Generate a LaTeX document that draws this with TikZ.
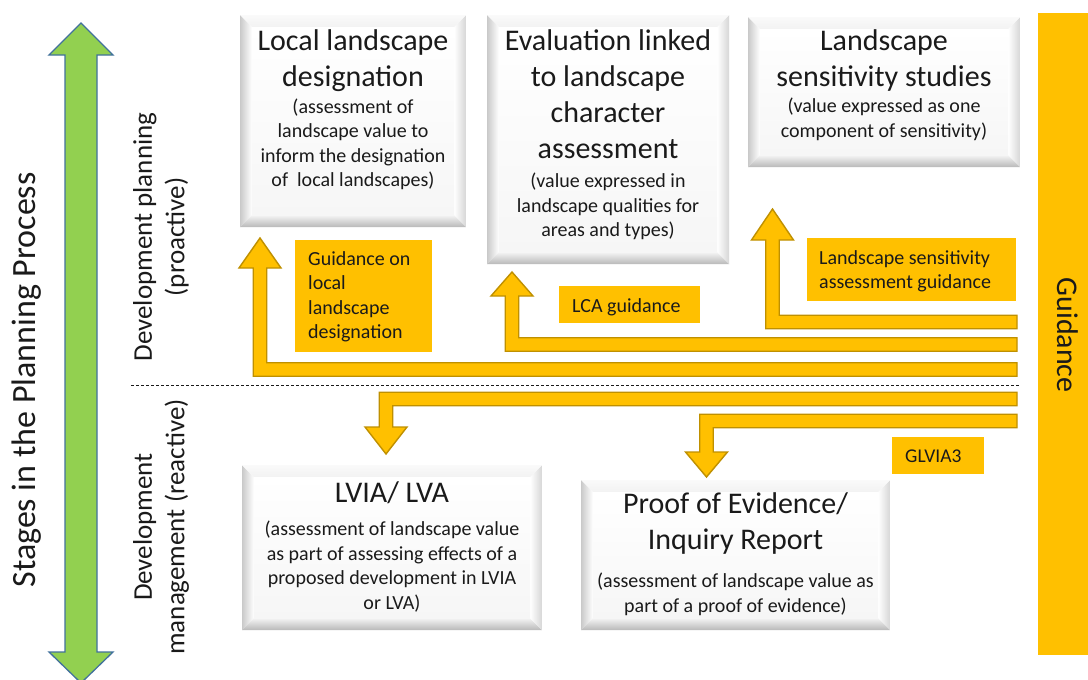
\documentclass[tikz,border=0pt]{standalone}
\usepackage{fontspec}
\setmainfont{Carlito}
\usetikzlibrary{calc,backgrounds}
\definecolor{gold}{HTML}{FFC000}
\definecolor{goldline}{HTML}{BF9000}
\definecolor{agreen}{HTML}{92D050}
\definecolor{ablue}{HTML}{41719C}
\definecolor{ink}{HTML}{1A1A1A}
\newcommand{\hdfont}{\fontsize{30}{36}\selectfont}
\newcommand{\sbfont}{\fontsize{20}{24.5}\selectfont}
\newcommand{\ctext}[2]{\parbox[t]{#1}{\centering #2}}
\newcommand{\ltext}[2]{\parbox[t]{#1}{\raggedright\sbfont #2}}
\newcommand{\blockup}[3]{%
  \path[blockarrow] let \p1=(#1), \p2=(#2) in
    (\x1,\y1+6.75pt) -- (\x2+6.75pt,\y1+6.75pt) -- (\x2+6.75pt,\y2-#3) -- (\x2+21pt,\y2-#3)
    -- (\x2,\y2) -- (\x2-21pt,\y2-#3) -- (\x2-6.75pt,\y2-#3) -- (\x2-6.75pt,\y1-6.75pt)
    -- (\x1,\y1-6.75pt) -- cycle;}
\newcommand{\blockdown}[3]{%
  \path[blockarrow] let \p1=(#1), \p2=(#2) in
    (\x1,\y1+6.75pt) -- (\x2-6.75pt,\y1+6.75pt) -- (\x2-6.75pt,\y2+#3) -- (\x2-21pt,\y2+#3)
    -- (\x2,\y2) -- (\x2+21pt,\y2+#3) -- (\x2+6.75pt,\y2+#3) -- (\x2+6.75pt,\y1-6.75pt)
    -- (\x1,\y1-6.75pt) -- cycle;}
\tikzset{
  blockarrow/.style={fill=gold, draw=goldline, line width=1.4pt, line join=miter},
  bevelbox/.style={fill=white, inner sep=0pt, outer sep=0pt, anchor=north west,
    path picture={
      \coordinate (bsw) at (path picture bounding box.south west);
      \coordinate (bse) at (path picture bounding box.south east);
      \coordinate (bnw) at (path picture bounding box.north west);
      \coordinate (bne) at (path picture bounding box.north east);
      \shade[left color=gray!42, right color=white] (bsw) -- (bnw) -- ($(bnw)+(12pt,-12pt)$) -- ($(bsw)+(12pt,12pt)$) -- cycle;
      \shade[bottom color=gray!55, top color=gray!8] (bsw) -- (bse) -- ($(bse)+(-12pt,12pt)$) -- ($(bsw)+(12pt,12pt)$) -- cycle;
      \shade[right color=gray!32, left color=white] (bse) -- (bne) -- ($(bne)+(-12pt,-12pt)$) -- ($(bse)+(-12pt,12pt)$) -- cycle;
      \shade[top color=gray!4, bottom color=gray!10] (bnw) -- (bne) -- ($(bne)+(-12pt,-12pt)$) -- ($(bnw)+(12pt,-12pt)$) -- cycle;
      \shade[top color=white, bottom color=gray!7] ($(bnw)+(12pt,-12pt)$) rectangle ($(bse)+(-12pt,12pt)$);
    }},
  boxtext/.style={inner sep=0pt, anchor=base, text=ink},
  labeltext/.style={inner sep=0pt, anchor=base west, text=ink},
  goldbox/.style={fill=gold, inner sep=0pt, anchor=north west},
  sidetext/.style={rotate=90, align=center, text=ink, font=\fontsize{27}{32.5}\selectfont}
}
\begin{document}
\begin{tikzpicture}[x=1pt, y=-1pt]
\useasboundingbox[fill=white] (0,0) rectangle (1088,680);

% stages arrow
\draw[fill=agreen, draw=ablue, line width=1.3pt, line join=miter]
  (81,23) -- (113,55) -- (97,55) -- (97,652) -- (113,652) -- (81,683) -- (49,652) -- (65,652) -- (65,55) -- (49,55) -- cycle;
\node[rotate=90, anchor=base, text=ink, font=\fontsize{34}{40}\selectfont] (stages) at (35,380) {Stages in the Planning Process};
\node[sidetext] (proactive) at (161,237) {Development planning\\(proactive)};
\node[sidetext] (reactive) at (161,527) {Development\\management (reactive)};

% divider
\coordinate (dl) at (131,385);
\coordinate (dr) at (1020,385);
\draw[ink, line width=0.7pt, dash pattern=on 3pt off 2pt] (dl) -- (dr);

% guidance bar
\node[goldbox, minimum width=50pt, minimum height=642pt] (guide) at (1038,13) {};
\node[rotate=-90, anchor=base, text=ink, font=\fontsize{30}{36}\selectfont] (guidet) at (1057,335) {Guidance};

% boxes
\node[bevelbox, minimum width=226pt, minimum height=212pt] (local) at (240,15) {};
\node[bevelbox, minimum width=242pt, minimum height=249pt] (eval) at (487,15) {};
\node[bevelbox, minimum width=272pt, minimum height=150pt] (sens) at (748,17) {};
\node[bevelbox, minimum width=300pt, minimum height=165pt] (lvia) at (242,465) {};
\node[bevelbox, minimum width=309pt, minimum height=150pt] (proof) at (581,480) {};

\begin{scope}[on background layer]
\foreach \n in {local,eval,sens,lvia,proof}{
  \fill[black, opacity=0.07] ($(\n.south west)+(0pt,-5pt)$) rectangle ($(\n.north east)+(3pt,-1pt)$);
  \fill[black, opacity=0.10] ($(\n.south west)+(1pt,-3.5pt)$) rectangle ($(\n.north east)+(2pt,-2pt)$);
  \fill[black, opacity=0.14] ($(\n.south west)+(1.5pt,-2pt)$) rectangle ($(\n.north east)+(1pt,-3pt)$);
}
\end{scope}

\node[boxtext] (localt) at (353,50) {\ctext{224pt}{{\hdfont Local landscape\\designation\par}\vspace{2.5pt}{\sbfont (assessment of\\landscape value to\\inform the designation\\of\ \ local landscapes)\par}}};
\node[boxtext] (evalt) at (608,50) {\ctext{240pt}{{\hdfont Evaluation linked\\to landscape\\character\\assessment\par}\vspace{5.5pt}{\sbfont (value expressed in\\landscape qualities for\\areas and types)\par}}};
\node[boxtext] (senst) at (884,50) {\ctext{270pt}{{\hdfont Landscape\\sensitivity studies\par}\vspace{2pt}{\sbfont (value expressed as one\\component of sensitivity)\par}}};
\node[boxtext] (lviat) at (392,502) {\ctext{298pt}{{\hdfont LVIA/ LVA\par}\vspace{9pt}{\sbfont (assessment of landscape value\\as part of assessing effects of a\\proposed development in LVIA\\or LVA)\par}}};
\node[boxtext] (prooft) at (735.5,513) {\ctext{307pt}{{\hdfont Proof of Evidence/\\Inquiry Report\par}\vspace{14pt}{\sbfont (assessment of landscape value as\\part of a proof of evidence)\par}}};

% arrows
\coordinate (s1) at (1017,322);   \coordinate (t1) at (772.5,209);
\coordinate (s2) at (1017,344.5); \coordinate (t2) at (512,272);
\coordinate (s3) at (1017,369.5); \coordinate (t3) at (260,238);
\coordinate (s4) at (1017,399);   \coordinate (t4) at (386,454);
\coordinate (s5) at (1017,421);   \coordinate (t5) at (706.5,477);
\blockup{s1}{t1}{31pt}
\blockup{s2}{t2}{24pt}
\blockup{s3}{t3}{30pt}
\blockdown{s4}{t4}{27pt}
\blockdown{s5}{t5}{25pt}

% guidance labels
\node[goldbox, minimum width=137pt, minimum height=112pt] (g1) at (295,240) {};
\node[labeltext] (g1t) at (308,265) {\ltext{120pt}{Guidance on\\local\\landscape\\designation}};
\node[goldbox, minimum width=141pt, minimum height=37pt] (g2) at (559,286) {};
\node[labeltext] (g2t) at (572,312) {\ltext{125pt}{LCA guidance}};
\node[goldbox, minimum width=209pt, minimum height=63pt] (g3) at (807,238) {};
\node[labeltext] (g3t) at (819,264) {\ltext{195pt}{Landscape sensitivity\\assessment guidance}};
\node[goldbox, minimum width=92pt, minimum height=37pt] (g4) at (892,437) {};
\node[labeltext, font=\fontsize{19.5}{24}\selectfont] (g4t) at (905,462) {GLVIA3};
\end{tikzpicture}
\end{document}
